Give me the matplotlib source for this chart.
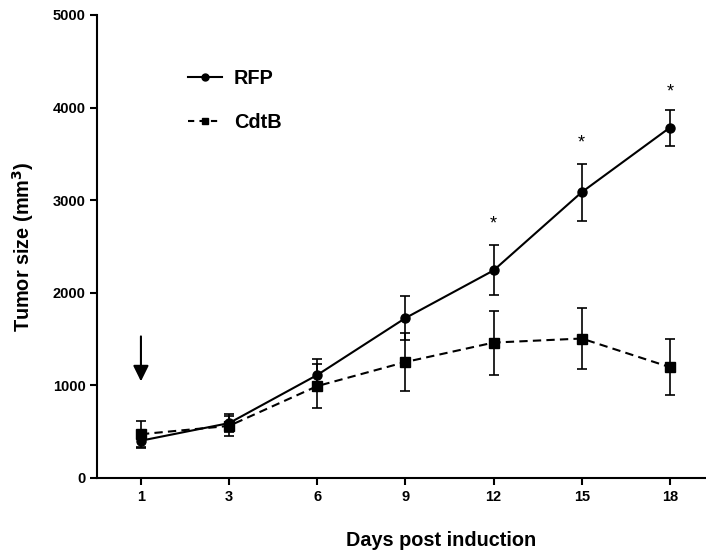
import matplotlib
matplotlib.use("Agg")
import matplotlib.pyplot as plt
from matplotlib.lines import Line2D

days = ["1", "3", "6", "9", "12", "15", "18"]
rfp = [400, 590, 1110, 1725, 2240, 3085, 3783]
rfp_err = [70, 100, 170, 235, 270, 308, 195]
cdtb = [470, 560, 990, 1250, 1460, 1504, 1195]
cdtb_err = [145, 110, 240, 315, 345, 333, 300]
star_idx = [4, 5, 6]
star_vals = [2743, 3618, 4172]
yticks = [0, 1000, 2000, 3000, 4000, 5000]

plt.rcParams['font.family'] = ['Liberation Sans', 'DejaVu Sans']
plt.rcParams['font.weight'] = 'bold'

fig = plt.figure(figsize=(7.06, 5.57), dpi=100)
ax = fig.add_axes([97.3/706, 1-477.7/557, 1-97.3/706, (477.7-15)/557])

dash = (0, (4, 2.5))
x = list(range(len(days)))
ax.errorbar(x, rfp, yerr=rfp_err, color='black', lw=1.5, ls='-', marker='o',
            ms=6.5, capsize=3.5, elinewidth=1.2, capthick=1.2)
ax.errorbar(x, cdtb, yerr=cdtb_err, color='black', lw=1.5, ls=dash, marker='s',
            ms=6.5, capsize=3.5, elinewidth=1.2, capthick=1.2)

for i, v in zip(star_idx, star_vals):
    ax.text(i, v, '*', ha='center', va='center', fontsize=13, fontweight='normal')

ax.annotate('', xy=(0, 1041), xytext=(0, 1527),
            arrowprops=dict(arrowstyle='-|>,head_length=0.95,head_width=0.47',
                            color='black', lw=1.5, shrinkA=0, shrinkB=0))

ax.set_xlim(-0.495, 6.41)
ax.set_ylim(0, 5000)
ax.set_xticks(x)
ax.set_xticklabels(days)
ax.set_yticks(yticks)
ax.tick_params(direction='out', length=5, width=1.5, labelsize=10.5)
for lab in ax.get_xticklabels() + ax.get_yticklabels():
    lab.set_fontweight('bold')
for s in ['top', 'right']:
    ax.spines[s].set_visible(False)
for s in ['left', 'bottom']:
    ax.spines[s].set_linewidth(1.5)

ax.set_xlabel('Days post induction', fontsize=14.3, fontweight='bold')
ax.xaxis.set_label_coords((441-97.3)/(706-97.3), -(541-477.7)/(477.7-15))
ax.xaxis.label.set_va('center')
ax.set_ylabel('Tumor size (mm$^\\mathbf{3}$)', fontsize=14.3, fontweight='bold', labelpad=12)

handles = [Line2D([], [], color='black', lw=1.5, ls='-', marker='o', ms=5),
           Line2D([], [], color='black', lw=1.5, ls=(0, (3, 2.5)), marker='s', ms=5)]
leg = ax.legend(handles, ['RFP', 'CdtB'], loc='upper left',
                bbox_to_anchor=(188/706, 1-69/557), bbox_transform=fig.transFigure,
                frameon=False, borderpad=0, borderaxespad=0,
                fontsize=14.3, handlelength=1.7, handletextpad=0.6, labelspacing=1.25)
for t in leg.get_texts():
    t.set_fontweight('bold')

fig.savefig('out.png', dpi=100)
